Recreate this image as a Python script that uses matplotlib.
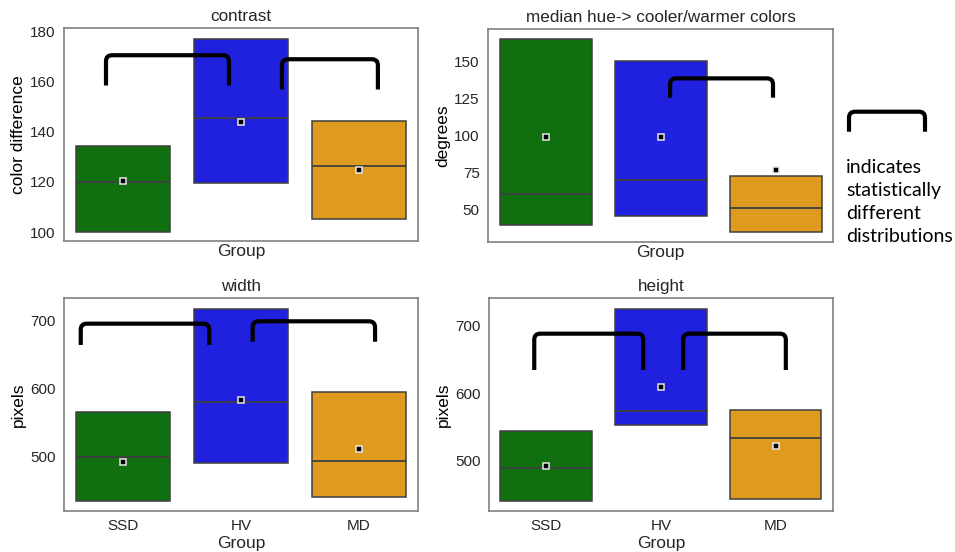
import matplotlib
matplotlib.use("Agg")
import matplotlib.pyplot as plt
from matplotlib.path import Path
from matplotlib.patches import PathPatch

groups = ["SSD", "HV", "MD"]
colors = ["#107010", "#2020df", "#df9b20"]

# contrast (color difference)
contrast_q1 = [100.0, 119.6, 105.2]
contrast_med = [120.0, 145.6, 126.4]
contrast_q3 = [134.4, 177.2, 144.4]
contrast_mean = [120.4, 144.1, 124.7]

# median hue (degrees)
hue_q1 = [39.4, 45.7, 34.8]
hue_med = [60.1, 69.7, 51.1]
hue_q3 = [164.8, 149.8, 72.4]
hue_mean = [99.0, 99.0, 76.4]

# width (pixels)
width_q1 = [434.4, 490.6, 441.1]
width_med = [500.0, 579.9, 493.7]
width_q3 = [565.3, 717.6, 595.0]
width_mean = [492.6, 583.4, 511.3]

# height (pixels)
height_q1 = [440.3, 553.8, 443.7]
height_med = [490.1, 573.5, 534.1]
height_q3 = [544.9, 724.7, 575.5]
height_mean = [492.6, 609.6, 522.7]

# significance brackets: (x left, x right, y top, y bottom) in data units
contrast_brackets = [(-0.144, 0.898, 170.7, 158.6), (1.347, 2.16, 169.1, 157.0)]
hue_brackets = [(1.083, 1.978, 138.3, 125.3)]
width_brackets = [(-0.358, 0.731, 695.6, 664.3), (1.099, 2.136, 699.1, 669.1)]
height_brackets = [(-0.105, 0.845, 688.6, 634.8), (1.194, 2.089, 688.6, 634.8)]

plt.rcParams["font.family"] = ["Liberation Sans", "DejaVu Sans"]
plt.rcParams["text.color"] = "#262626"
plt.rcParams["axes.labelcolor"] = "#262626"
plt.rcParams["xtick.color"] = "#262626"
plt.rcParams["ytick.color"] = "#262626"

fig = plt.figure(figsize=(9.55, 5.52), dpi=100)


def bracket_path(xl, xr, yt, yb, r=6):
    # corners rounded in pixel space
    (x0, y0), (x1, y1) = (xl, yb), (xr, yt)
    verts = [(x0, y0), (x0, y1 - r), (x0, y1), (x0 + r, y1),
             (x1 - r, y1), (x1, y1), (x1, y1 - r), (x1, y0)]
    codes = [Path.MOVETO, Path.LINETO, Path.CURVE3, Path.CURVE3,
             Path.LINETO, Path.CURVE3, Path.CURVE3, Path.LINETO]
    return Path(verts, codes)


def draw_bracket(trans, xl, xr, yt, yb):
    pl = trans.transform((xl, yb))
    pr = trans.transform((xr, yt))
    p = bracket_path(pl[0], pr[0], pr[1], pl[1])
    fig.patches.append(PathPatch(p, transform=None, fill=False, lw=3,
                                 edgecolor="black", capstyle="butt",
                                 figure=fig, zorder=10))


def panel(rect, q1, med, q3, mean, title, ylabel, ylim, yticks, brackets, xticks):
    ax = fig.add_axes(rect)
    stats = []
    for i in range(len(groups)):
        stats.append(dict(q1=q1[i], med=med[i], q3=q3[i], mean=mean[i],
                          whislo=q1[i], whishi=q3[i], fliers=[]))
    b = ax.bxp(stats, positions=range(len(groups)), widths=0.8,
               patch_artist=True, showcaps=False, showmeans=True,
               boxprops=dict(edgecolor="#3f3f3f", linewidth=1.1),
               medianprops=dict(color="#3f3f3f", linewidth=1.3),
               whiskerprops=dict(linewidth=0),
               meanprops=dict(marker="s", markerfacecolor="black",
                              markeredgecolor="#e8e8e8", markersize=4.6,
                              markeredgewidth=1.1))
    for patch, c in zip(b["boxes"], colors):
        patch.set_facecolor(c)
    ax.set_xlim(-0.5, 2.5)
    ax.set_ylim(*ylim)
    ax.set_yticks(yticks)
    if xticks:
        ax.set_xticks(range(len(groups)))
        ax.set_xticklabels(groups)
    else:
        ax.set_xticks([])
    ax.tick_params(length=0, labelsize=11, pad=6)
    ax.set_title(title, fontsize=12.3, pad=5)
    ax.set_xlabel("Group", fontsize=12.5, labelpad=2)
    ax.set_ylabel(ylabel, fontsize=12.5, color="black", labelpad=3)
    for s in ax.spines.values():
        s.set_color("#808080")
        s.set_linewidth(1.2)
    for br in brackets:
        draw_bracket(ax.transData, *br)
    return ax


panel([0.067, 0.5634, 0.3707, 0.3859], contrast_q1, contrast_med, contrast_q3,
      contrast_mean, "contrast", "color difference", (96.4, 181.6),
      [100, 120, 140, 160, 180], contrast_brackets, False)
panel([0.511, 0.5616, 0.3613, 0.3859], hue_q1, hue_med, hue_q3, hue_mean,
      "median hue-> cooler/warmer colors", "degrees", (28, 171.6),
      [50, 75, 100, 125, 150], hue_brackets, False)
panel([0.067, 0.0743, 0.3707, 0.3859], width_q1, width_med, width_q3,
      width_mean, "width", "pixels", (420.2, 733.4), [500, 600, 700],
      width_brackets, True)
panel([0.512, 0.0743, 0.3602, 0.3859], height_q1, height_med, height_q3,
      height_mean, "height", "pixels", (425.9, 741.5), [500, 600, 700],
      height_brackets, True)

# legend key on the right
draw_bracket(fig.transFigure, 849 / 955, 925 / 955, 1 - 111.7 / 552, 1 - 131.7 / 552)
fig.text(0.886, 1 - 159 / 552, "indicates\nstatistically\ndifferent\ndistributions",
         family=["Lato", "DejaVu Sans"], fontsize=14, color="black",
         va="top", ha="left", linespacing=1.44)

fig.savefig("out.png", dpi=100)
